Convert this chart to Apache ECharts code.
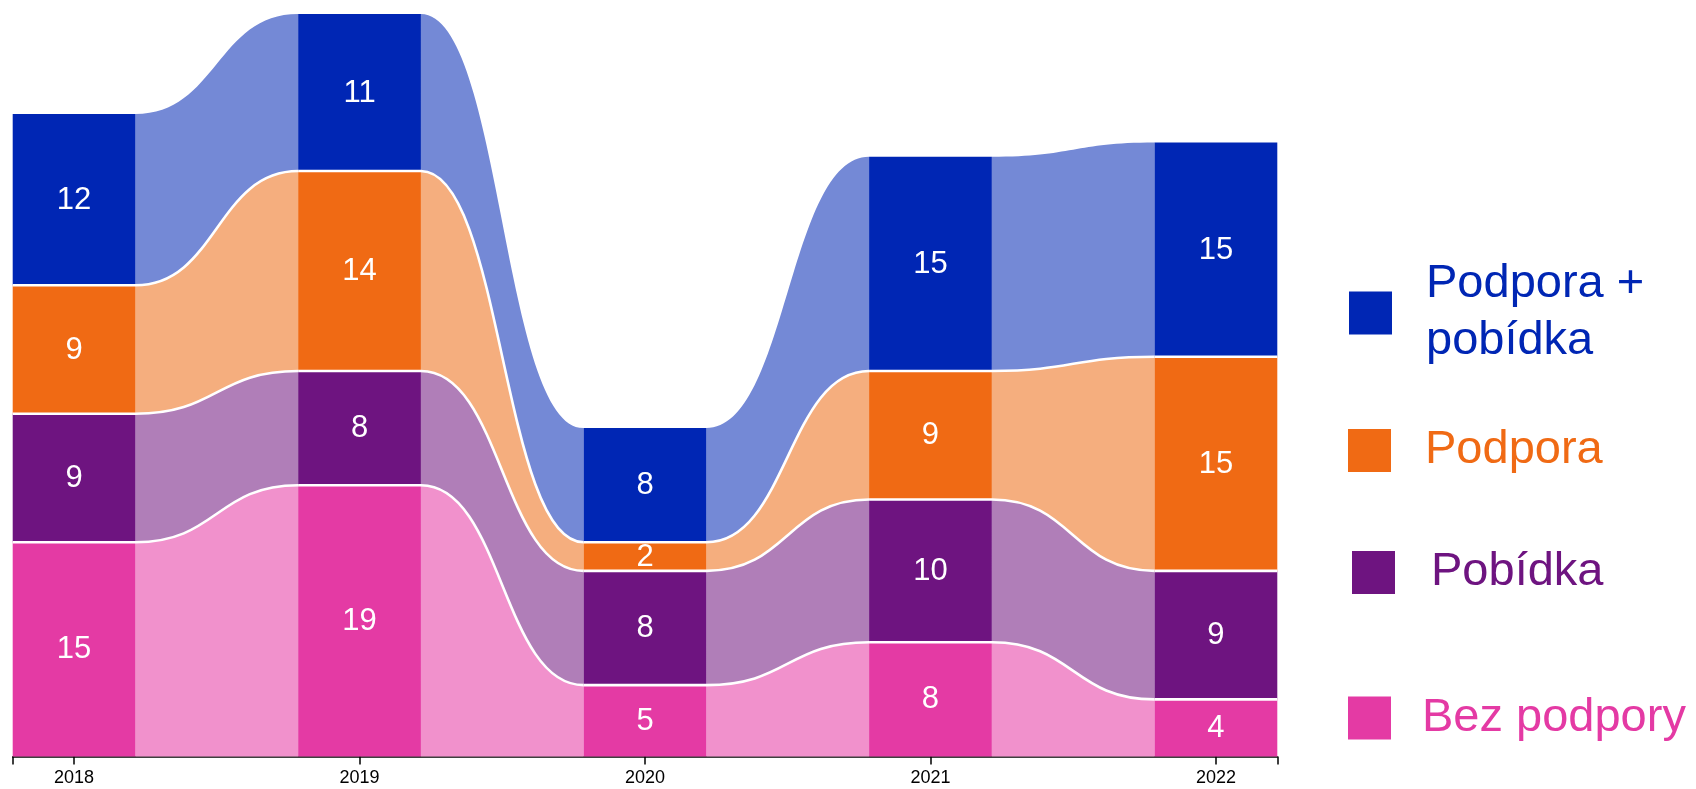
<!DOCTYPE html>
<html>
<head>
<meta charset="utf-8">
<script src="https://cdn.jsdelivr.net/npm/echarts@6/dist/echarts.min.js"></script>
<style>
  html, body { margin: 0; padding: 0; background: #fff; }
  #chart { width: 1696px; height: 789px; }
</style>
</head>
<body>
<div id="chart"></div>
<script>
// data
const years = ['2018', '2019', '2020', '2021', '2022']
const bezPodpory = [15, 19, 5, 8, 4]
const pobidka = [9, 8, 8, 10, 9]
const podpora = [9, 14, 2, 9, 15]
const podporaPobidka = [12, 11, 8, 15, 15]

const seriesNames = ['Bez podpory', 'Pobídka', 'Podpora', 'Podpora +\npobídka']
const darkColors = ['#e43aa4', '#6e1480', '#f06a14', '#0026b4']
const lightColors = ['#f191cc', '#b07eb8', '#f5ae7e', '#7489d6']

const HALF = 0.215 // half bar width in axis units
const FONT = '"Liberation Sans", Arial, sans-serif'

// build stacked layers, bottom to top
const layers = [bezPodpory, pobidka, podpora, podporaPobidka]
const bases = years.map(() => 0)
const layerData = layers.map((vals) => {
  const rows = vals.map((v, i) => [i, bases[i], bases[i] + v, v])
  rows.forEach((r, i) => { bases[i] = r[2] })
  rows.forEach((r, i) => {
    const next = rows[i + 1]
    r.push(next ? next[1] : NaN, next ? next[2] : NaN)
  })
  return rows
})

const makeRender = (k) => (params, api) => {
  const i = api.value(0)
  const base = api.value(1)
  const top = api.value(2)
  const nb = api.value(4)
  const nt = api.value(5)
  const tl = api.coord([i - HALF, top])
  const br = api.coord([i + HALF, base])
  const children = []
  let b = null
  if (!isNaN(nt)) {
    const a = [br[0], tl[1]]
    b = api.coord([i + 1 - HALF, nt])
    const c = api.coord([i + 1 - HALF, nb])
    const mx = (a[0] + b[0]) / 2
    children.push({
      type: 'path',
      shape: {
        pathData: `M${a[0]},${a[1]} C${mx},${a[1]} ${mx},${b[1]} ${b[0]},${b[1]} L${c[0]},${c[1]} C${mx},${c[1]} ${mx},${br[1]} ${br[0]},${br[1]} Z`,
      },
      style: { fill: lightColors[k] },
    })
  }
  children.push({
    type: 'rect',
    shape: { x: tl[0], y: tl[1], width: br[0] - tl[0], height: br[1] - tl[1] },
    style: { fill: darkColors[k] },
  })
  children.push({
    type: 'text',
    x: (tl[0] + br[0]) / 2,
    y: (tl[1] + br[1]) / 2 + 0.5,
    style: {
      text: String(api.value(3)),
      fill: '#fff',
      font: '31px ' + FONT,
      align: 'center',
      verticalAlign: 'middle',
    },
  })
  // white edge on top of every layer but the highest
  if (k < layers.length - 1) {
    let d = `M${tl[0]},${tl[1]} L${br[0]},${tl[1]}`
    if (b) {
      const mx = (br[0] + b[0]) / 2
      d += ` C${mx},${tl[1]} ${mx},${b[1]} ${b[0]},${b[1]}`
    }
    children.push({
      type: 'path',
      z2: 10,
      shape: { pathData: d },
      style: { fill: null, stroke: '#fff', lineWidth: 2.6 },
    })
  }
  return { type: 'group', children }
}

// top layer first so lower layers' white edges stay on top
const series = [3, 2, 1, 0].map((k) => ({
  name: seriesNames[k],
  type: 'custom',
  renderItem: makeRender(k),
  itemStyle: { color: darkColors[k] },
  encode: { x: 0, y: [1, 2] },
  data: layerData[k],
  silent: true,
}))

// padding: [top, right, bottom, left] of legend text, moves text against its icon
const legendItem = (k, left, top, padding) => ({
  data: [seriesNames[k]],
  left,
  top,
  padding: 0,
  icon: 'rect',
  itemWidth: 43,
  itemHeight: 43,
  selectedMode: false,
  textStyle: {
    color: darkColors[k],
    fontSize: 47,
    fontFamily: FONT,
    lineHeight: 57,
    padding,
  },
})

const myChart = echarts.init(document.getElementById('chart'))
myChart.setOption({
  animation: false,
  grid: { left: 12.7, right: 418.7, top: 14, bottom: 32.5, outerBoundsMode: 'none' },
  xAxis: {
    type: 'value',
    min: -HALF,
    max: years.length - 1 + HALF,
    splitLine: { show: false },
    axisLine: { show: true, lineStyle: { color: '#000', width: 1.5 } },
    axisTick: {
      show: true,
      length: 8,
      lineStyle: { color: '#000', width: 1.5 },
      customValues: [-HALF, 0, 1, 2, 3, 4, years.length - 1 + HALF],
    },
    axisLabel: {
      customValues: [0, 1, 2, 3, 4],
      formatter: (v) => years[Math.round(v)],
      color: '#000',
      fontSize: 18,
      fontFamily: FONT,
      margin: 13,
    },
  },
  yAxis: { type: 'value', min: 0, max: 52, show: false },
  legend: [
    legendItem(3, 1349, 256, [0, 0, 0, 29]),
    legendItem(2, 1348, 420, [4, 0, 0, 29]),
    legendItem(1, 1352, 544, [0, 0, 0, 31]),
    legendItem(0, 1348, 683, [0, 0, 13, 26]),
  ],
  series,
})
</script>
</body>
</html>
